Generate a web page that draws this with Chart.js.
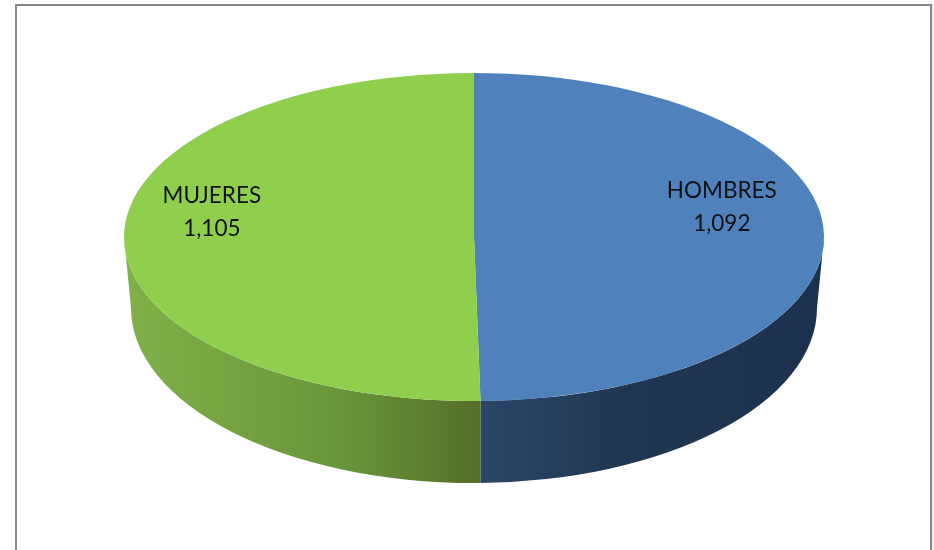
<!DOCTYPE html>
<html lang="es">
<head>
<meta charset="utf-8">
<title>Hombres y mujeres</title>
<script src="https://cdn.jsdelivr.net/npm/chart.js@4"></script>
<style>
    html, body { margin: 0; padding: 0; background: #fff; overflow: hidden; }
    #marco {
        position: absolute; left: 15px; top: 4px; width: 913px; height: 600px;
        border: 2px solid #868686; box-shadow: 2px 0 0 #efefef;
    }
    #grafico { position: absolute; left: 0; top: 0; }
</style>
</head>
<body>
<div id="marco"></div>
<canvas id="grafico" width="934" height="550"></canvas>
<script>
// Datos del gráfico
const categorias = ['HOMBRES', 'MUJERES'];
const valores = [1092, 1105];
const coloresCara = ['#4f81bd', '#90cf4e'];
// Degradado de la pared lateral (izquierda a derecha)
const coloresLado = [
    [[0, '#2b4668'], [0.4, '#203752'], [1, '#1c314d']],
    [[0, '#80b148'], [0.6, '#6a963a'], [1, '#556e2a']]
];

// Geometría en pantalla: cara superior y borde inferior de la pared (algo más estrecho)
const cara = { cx: 474, cy: 237, rx: 350, ry: 164 };
const base = { cx: 474, cy: 308, rx: 343, ry: 175 };
// Centro de cada etiqueta, relativo a los radios de la cara
const posEtiquetas = [[0.708, -0.19], [-0.749, -0.16]];

const pie3d = {
    id: 'pie3d',
    beforeDatasetsDraw(chart) {
        const ctx = chart.ctx;
        const arcos = chart.getDatasetMeta(0).data;
        arcos.forEach((arco, i) => {
            // Solo se ve la mitad delantera de la pared
            const ini = Math.max(arco.startAngle, 0);
            const fin = Math.min(arco.endAngle, Math.PI);
            if (fin <= ini) return;
            const x0 = cara.cx + cara.rx * Math.cos(fin);
            const x1 = cara.cx + cara.rx * Math.cos(ini);
            const grad = ctx.createLinearGradient(x0, 0, x1, 0);
            coloresLado[i].forEach(p => grad.addColorStop(p[0], p[1]));
            ctx.save();
            ctx.beginPath();
            ctx.ellipse(cara.cx, cara.cy, cara.rx, cara.ry, 0, ini, fin);
            ctx.ellipse(base.cx, base.cy, base.rx, base.ry, 0, fin, ini, true);
            ctx.closePath();
            ctx.fillStyle = grad;
            ctx.fill();
            ctx.restore();
        });
        // Aplastar la tarta para que quede como elipse
        const a = arcos[0];
        ctx.save();
        ctx.translate(cara.cx, cara.cy);
        ctx.scale(cara.rx / a.outerRadius, cara.ry / a.outerRadius);
        ctx.translate(-a.x, -a.y);
    },
    afterDatasetsDraw(chart) {
        const ctx = chart.ctx;
        ctx.restore();
        ctx.fillStyle = '#111';
        ctx.font = '22.5px Lato';
        ctx.textAlign = 'center';
        ctx.textBaseline = 'middle';
        categorias.forEach((nombre, i) => {
            const x = cara.cx + posEtiquetas[i][0] * cara.rx;
            const y = cara.cy + posEtiquetas[i][1] * cara.ry;
            ctx.fillText(nombre, x, y - 15);
            ctx.fillText(valores[i].toLocaleString('en-US'), x, y + 18);
        });
    }
};

new Chart(document.getElementById('grafico').getContext('2d'), {
    type: 'pie',
    data: {
        labels: categorias,
        datasets: [{
            data: valores,
            backgroundColor: coloresCara,
            borderWidth: 0
        }]
    },
    options: {
        responsive: false,
        animation: false,
        plugins: {
            legend: { display: false },
            tooltip: { enabled: false }
        }
    },
    plugins: [pie3d]
});
</script>
</body>
</html>
